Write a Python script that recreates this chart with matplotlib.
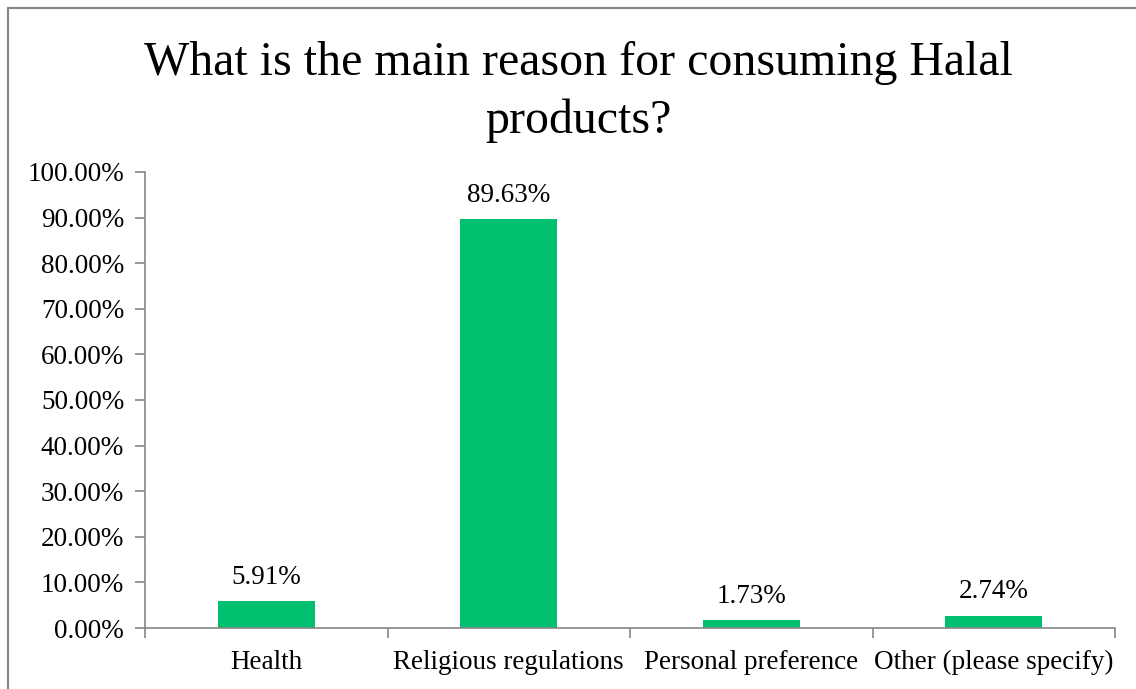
import matplotlib
matplotlib.use("Agg")
import matplotlib.pyplot as plt
from matplotlib.lines import Line2D
from matplotlib.ticker import FuncFormatter, FixedLocator, NullFormatter

categories = ["Health", "Religious regulations", "Personal preference", "Other (please specify)"]
values = [5.91, 89.63, 1.73, 2.74]
yticks = [0, 10, 20, 30, 40, 50, 60, 70, 80, 90, 100]

plt.rcParams['font.family'] = ['Liberation Serif', 'DejaVu Serif']

W, H = 1136, 689
fig = plt.figure(figsize=(W / 100, H / 100), dpi=100)
fig.patch.set_facecolor('white')

# axes position in pixels
x0, x1 = 145, 1115
y_bot, y_top = 628, 172
ax = fig.add_axes([x0 / W, 1 - y_bot / H, (x1 - x0) / W, (y_bot - y_top) / H])

xs = list(range(len(categories)))
bars = ax.bar(xs, values, width=0.4, color='#00BF6F')
ax.set_xlim(-0.5, len(categories) - 0.5)
ax.set_ylim(0, 100)

ax.set_yticks(yticks)
ax.yaxis.set_major_formatter(FuncFormatter(lambda v, p: f"{v:.2f}%"))

ax.set_xticks(xs)
ax.set_xticklabels(categories)
ax.xaxis.set_minor_locator(FixedLocator([i - 0.5 for i in range(len(categories) + 1)]))
ax.xaxis.set_minor_formatter(NullFormatter())
ax.tick_params(axis='x', which='major', length=0, pad=16, labelsize=19.5)
ax.tick_params(axis='x', which='minor', length=7, width=1.2, color='#868686', direction='out')
ax.tick_params(axis='y', length=7, width=1.2, color='#868686', direction='out', labelsize=19.5, pad=8)

for s in ['top', 'right']:
    ax.spines[s].set_visible(False)
for s in ['left', 'bottom']:
    ax.spines[s].set_color('#868686')
    ax.spines[s].set_linewidth(1.2)

for x, v in zip(xs, values):
    ax.annotate(f"{v:.2f}%", (x, v), xytext=(0, 8), textcoords='offset points',
                ha='center', va='bottom', fontsize=19.5)

fig.text(578 / W, 1 - 92 / H, "What is the main reason for consuming Halal\nproducts?",
         ha='center', va='center', fontsize=34.5, linespacing=1.38)

# outer border (top and left visible)
fig.add_artist(Line2D([8 / W, 8 / W], [0, 1 - 8 / H], transform=fig.transFigure,
                      color='#868686', lw=1.5))
fig.add_artist(Line2D([8 / W, 1], [1 - 8 / H, 1 - 8 / H], transform=fig.transFigure,
                      color='#868686', lw=1.5))

fig.savefig("out.png", dpi=100)
